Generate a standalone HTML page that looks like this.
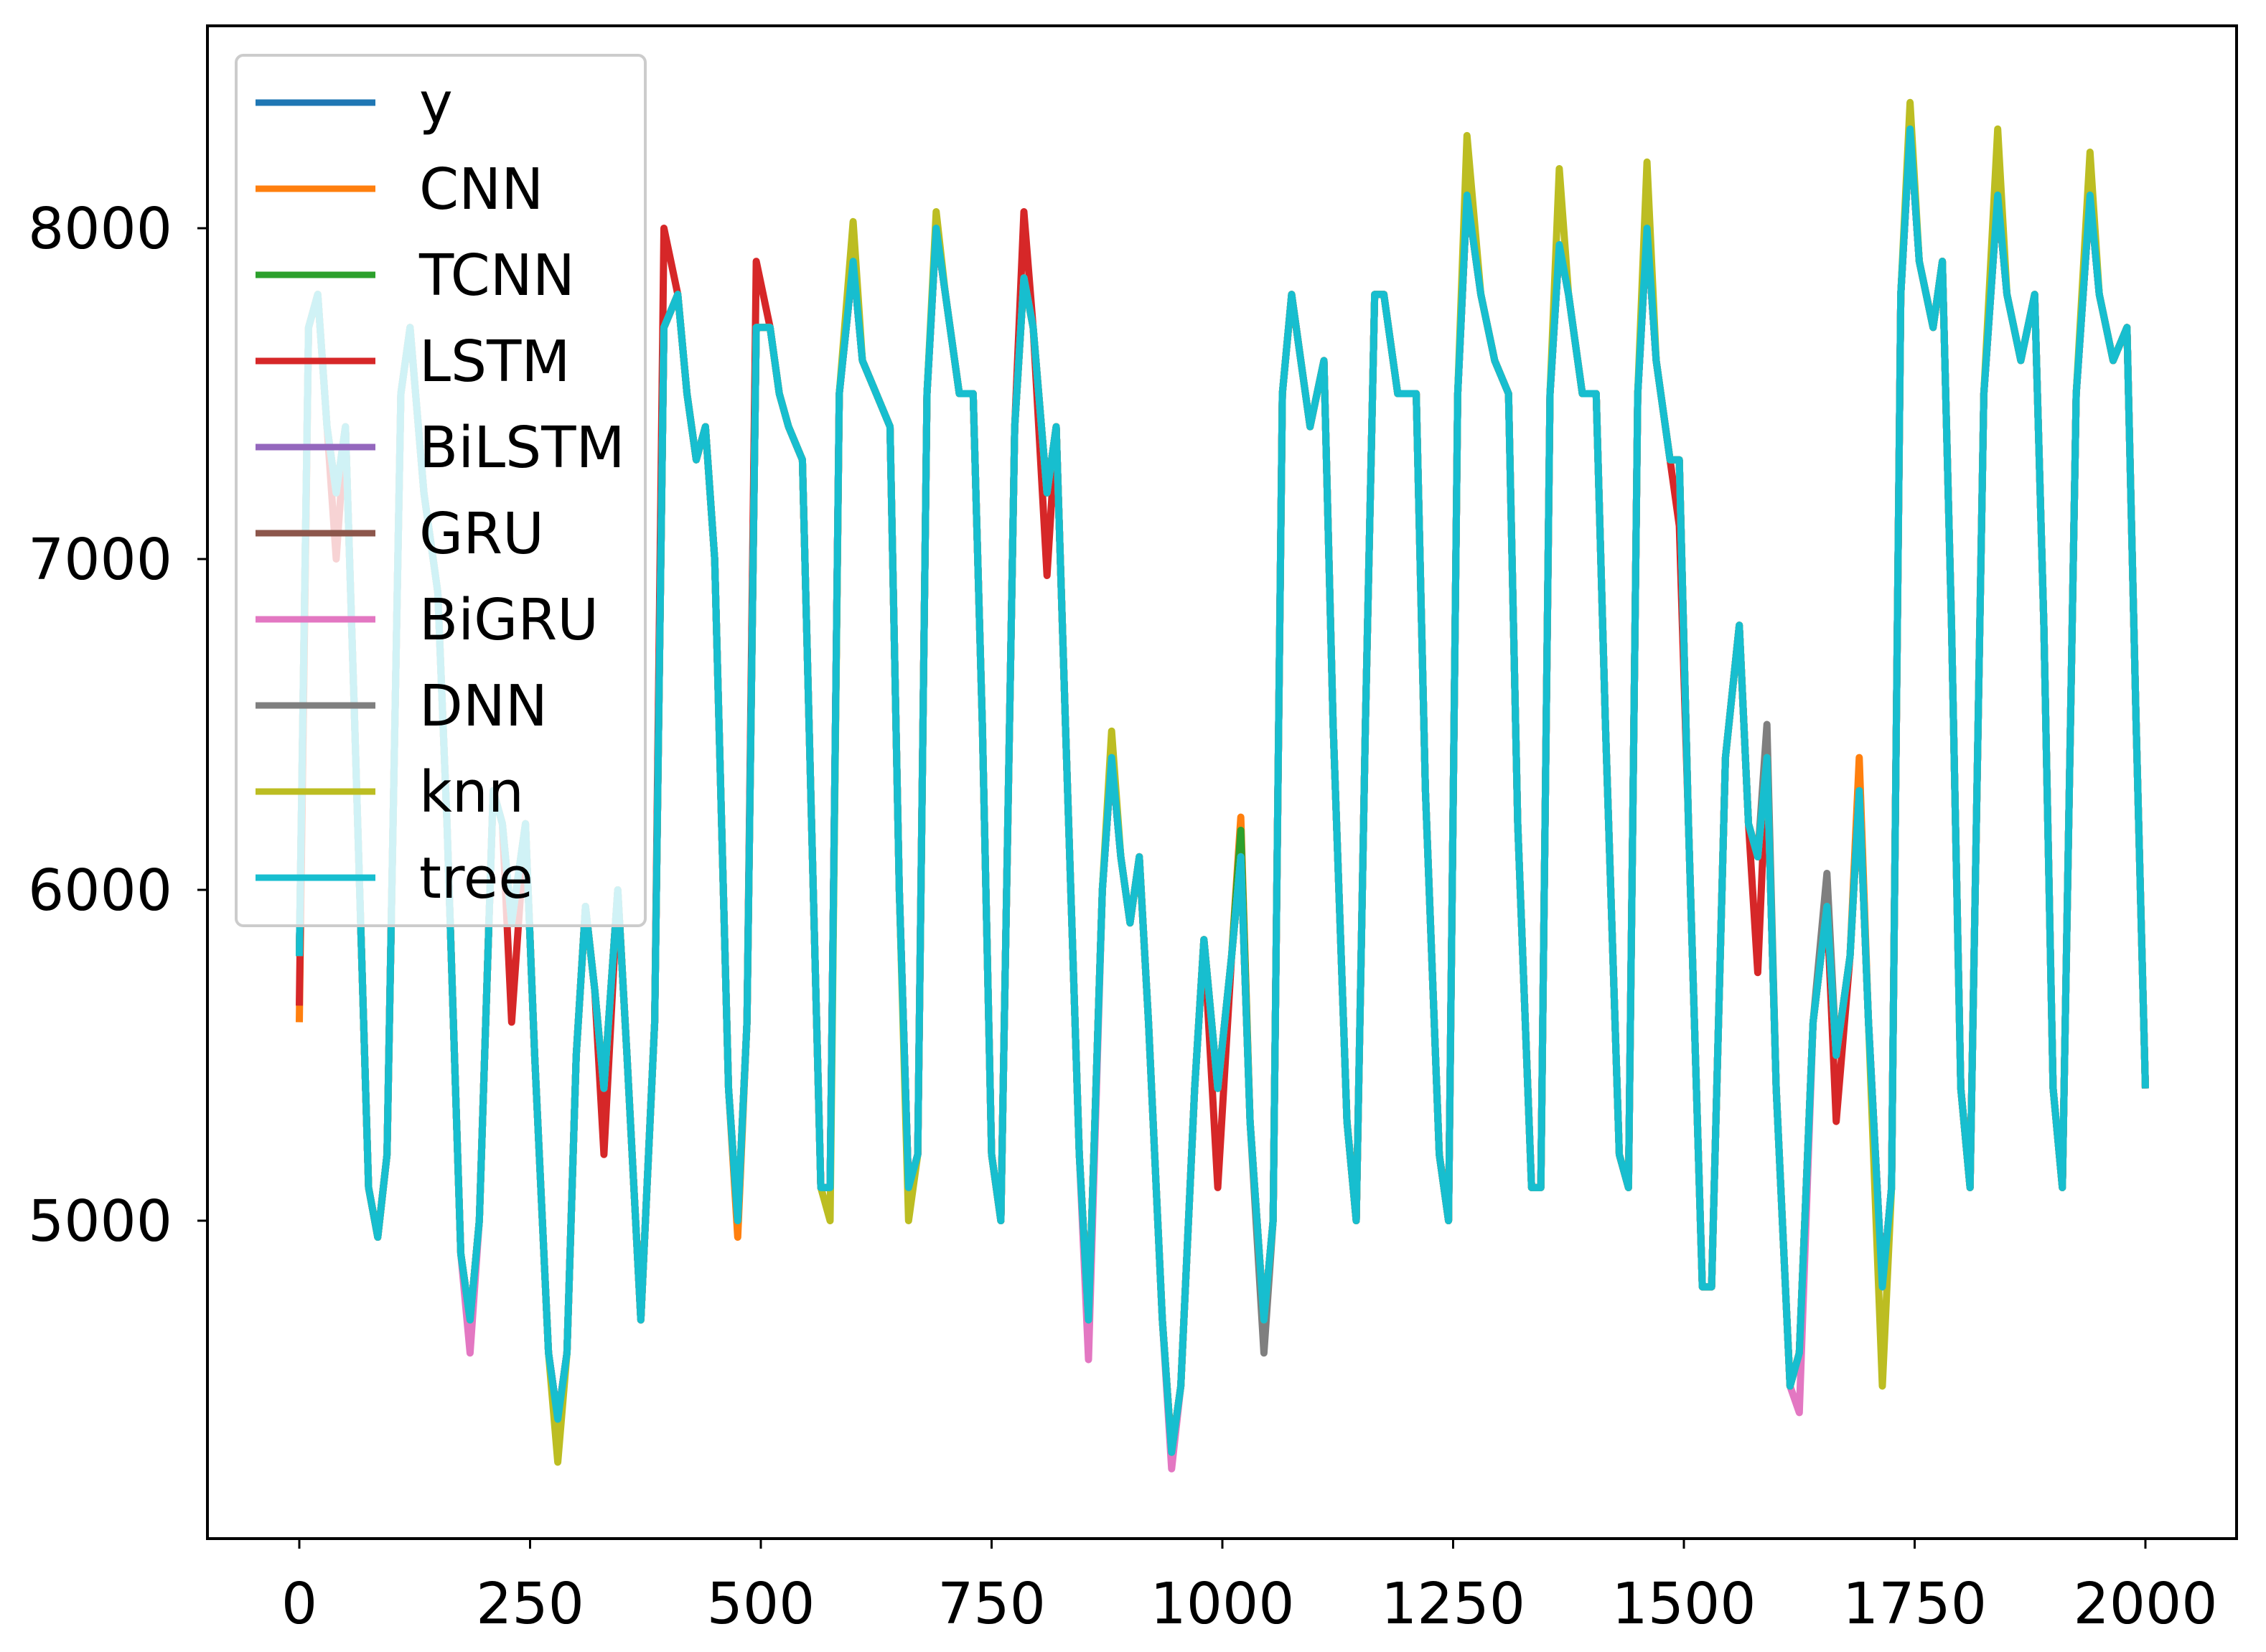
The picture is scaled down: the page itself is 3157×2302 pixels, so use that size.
<!DOCTYPE html>
<html><head><meta charset="utf-8">
<style>
html,body{margin:0;padding:0;background:#fff;}
svg{display:block;font-family:"DejaVu Sans","Liberation Sans",sans-serif;}
</style></head>
<body>
<svg id="chart" width="3157" height="2302" viewBox="0 0 3157 2302" xmlns="http://www.w3.org/2000/svg">
<rect width="3157" height="2302" fill="#fff"/>
<g id="series"></g>
<rect x="289" y="36" width="2827" height="2108" fill="none" stroke="#000" stroke-width="4"/>
<g id="axes"></g>
<g id="legend"></g>
</svg>
<script>
const xTicks=[0,250,500,750,1000,1250,1500,1750,2000];
const yTicks=[5000,6000,7000,8000];
const seriesNames=["y","CNN","TCNN","LSTM","BiLSTM","GRU","BiGRU","DNN","knn","tree"];
const seriesColors=["#1f77b4","#ff7f0e","#2ca02c","#d62728","#9467bd","#8c564b","#e377c2","#7f7f7f","#bcbd22","#17becf"];
const xs=[0,10,20,30,40,50,60,75,85,95,110,120,135,150,160,175,185,195,210,220,230,245,255,270,280,290,300,310,320,330,345,355,370,385,395,410,420,430,440,450,465,475,485,495,510,520,530,545,555,565,575,585,600,610,625,640,650,660,670,680,690,700,715,730,740,750,760,775,785,795,810,820,830,845,855,870,880,890,900,910,920,935,945,955,970,980,995,1010,1020,1030,1045,1055,1065,1075,1085,1095,1110,1120,1135,1145,1155,1165,1175,1190,1210,1220,1235,1245,1255,1265,1280,1295,1310,1320,1335,1345,1355,1365,1375,1390,1405,1415,1430,1440,1450,1460,1470,1485,1495,1505,1520,1530,1545,1560,1570,1580,1590,1600,1615,1625,1640,1655,1665,1680,1690,1700,1715,1725,1735,1745,1755,1770,1780,1790,1800,1810,1825,1840,1850,1865,1880,1890,1900,1910,1925,1940,1950,1965,1980,1990,2000];
const yVals=[5800,7700,7800,7400,7200,7400,6500,5100,4950,5200,7500,7700,7200,6900,6200,4900,4700,5000,6300,6200,5900,6200,5500,4600,4400,4600,5500,5950,5700,5400,6000,5500,4700,5600,7700,7800,7500,7300,7400,7000,5400,5000,5600,7700,7700,7500,7400,7300,6200,5100,5100,7500,7900,7600,7500,7400,6000,5100,5200,7500,8000,7800,7500,7500,6500,5200,5000,7400,7850,7700,7200,7400,6500,5200,4700,6000,6400,6100,5900,6100,5600,4700,4300,4500,5400,5850,5400,5800,6100,5300,4700,5000,7500,7800,7600,7400,7600,6500,5300,5000,6500,7800,7800,7500,7500,6300,5200,5000,7500,8100,7800,7600,7500,6200,5100,5100,7500,7950,7800,7500,7500,6500,5200,5100,7500,8000,7600,7300,7300,6200,4800,4800,6400,6800,6200,6100,6400,5400,4500,4600,5600,5950,5500,5800,6300,5600,4800,5100,7800,8300,7900,7700,7900,6800,5400,5100,7500,8100,7800,7600,7800,6800,5400,5100,7500,8100,7800,7600,7700,6500,5400];
// per-series deviations: [x, value]
const cnnDev=[[0,5600],[475,4950],[1020,6220],[1690,6400]];
const tcnnDev=[[1020,6180]];
const lstmDev=[[0,5650],[40,7000],[230,5600],[330,5200],[395,8000],[495,7900],[785,8050],[810,6950],[995,5100],[1495,7100],[1580,5750],[1665,5300]];
const bilstmDev=[[1265,8150],[1840,8150]];
const gruDev=[[1590,6450]];
const bigruDev=[[185,4600],[855,4580],[945,4250],[1625,4420]];
const dnnDev=[[1045,4600],[1590,6500],[1655,6050]];
const knnDev=[[280,4270],[575,5000],[600,8020],[660,5000],[690,8050],[880,6480],[1245,5000],[1265,8280],[1365,8180],[1460,8200],[1715,4500],[1745,8380],[1840,8300],[1940,8230]];
const treeDev=[];
const devs=[[],cnnDev,tcnnDev,lstmDev,bilstmDev,gruDev,bigruDev,dnnDev,knnDev,treeDev];

const X0=417,X1=2989,Y8=318,Y5=1701;
function sx(v){return X0+(v-0)*(X1-X0)/2000;}
function sy(v){return Y5+(v-5000)*(Y8-Y5)/3000;}
const NS="http://www.w3.org/2000/svg";
const sg=document.getElementById('series');
seriesNames.forEach((nm,si)=>{
  const vals=yVals.slice();
  devs[si].forEach(d=>{const k=xs.indexOf(d[0]); if(k>=0) vals[k]=d[1];});
  const p=document.createElementNS(NS,'path');
  p.setAttribute('d',xs.map((x,i)=>(i?'L':'M')+sx(x).toFixed(1)+' '+sy(vals[i]).toFixed(1)).join(' '));
  p.setAttribute('fill','none');p.setAttribute('stroke',seriesColors[si]);
  p.setAttribute('stroke-width','10');p.setAttribute('stroke-linejoin','round');
  
  
  sg.appendChild(p);
});
const ax=document.getElementById('axes');
xTicks.forEach(t=>{
  const l=document.createElementNS(NS,'line');
  l.setAttribute('x1',sx(t));l.setAttribute('x2',sx(t));l.setAttribute('y1',2144);l.setAttribute('y2',2158);
  l.setAttribute('stroke','#000');l.setAttribute('stroke-width','3');
  
  
  ax.appendChild(l);
  const tx=document.createElementNS(NS,'text');
  tx.setAttribute('x',sx(t));tx.setAttribute('y',2262);tx.setAttribute('text-anchor','middle');
  tx.setAttribute('font-size','79');tx.textContent=t;
  
  
  ax.appendChild(tx);
});
yTicks.forEach(t=>{
  const l=document.createElementNS(NS,'line');
  l.setAttribute('x1',275);l.setAttribute('x2',289);l.setAttribute('y1',sy(t));l.setAttribute('y2',sy(t));
  l.setAttribute('stroke','#000');l.setAttribute('stroke-width','3');
  
  
  ax.appendChild(l);
  const tx=document.createElementNS(NS,'text');
  tx.setAttribute('x',240);tx.setAttribute('y',sy(t)+28);tx.setAttribute('text-anchor','end');
  tx.setAttribute('font-size','79');tx.textContent=t;
  
  
  ax.appendChild(tx);
});
const lg=document.getElementById('legend');
const bx=document.createElementNS(NS,'rect');
bx.setAttribute('x',329);bx.setAttribute('y',77);bx.setAttribute('width',570);bx.setAttribute('height',1213);
bx.setAttribute('rx',10);bx.setAttribute('fill','#fff');bx.setAttribute('fill-opacity','0.8');
bx.setAttribute('stroke','#ccc');bx.setAttribute('stroke-width','4');


lg.appendChild(bx);
seriesNames.forEach((nm,i)=>{
  const y=143+i*120;
  const g=document.createElementNS(NS,'g');
  
  
  const l=document.createElementNS(NS,'line');
  l.setAttribute('x1',356);l.setAttribute('x2',523);l.setAttribute('y1',y);l.setAttribute('y2',y);
  l.setAttribute('stroke',seriesColors[i]);l.setAttribute('stroke-width','9');
  g.appendChild(l);
  const tx=document.createElementNS(NS,'text');
  tx.setAttribute('x',584);tx.setAttribute('y',y+28);tx.setAttribute('font-size','79');tx.textContent=nm;
  g.appendChild(tx);
  lg.appendChild(g);
});
</script>
</body></html>
